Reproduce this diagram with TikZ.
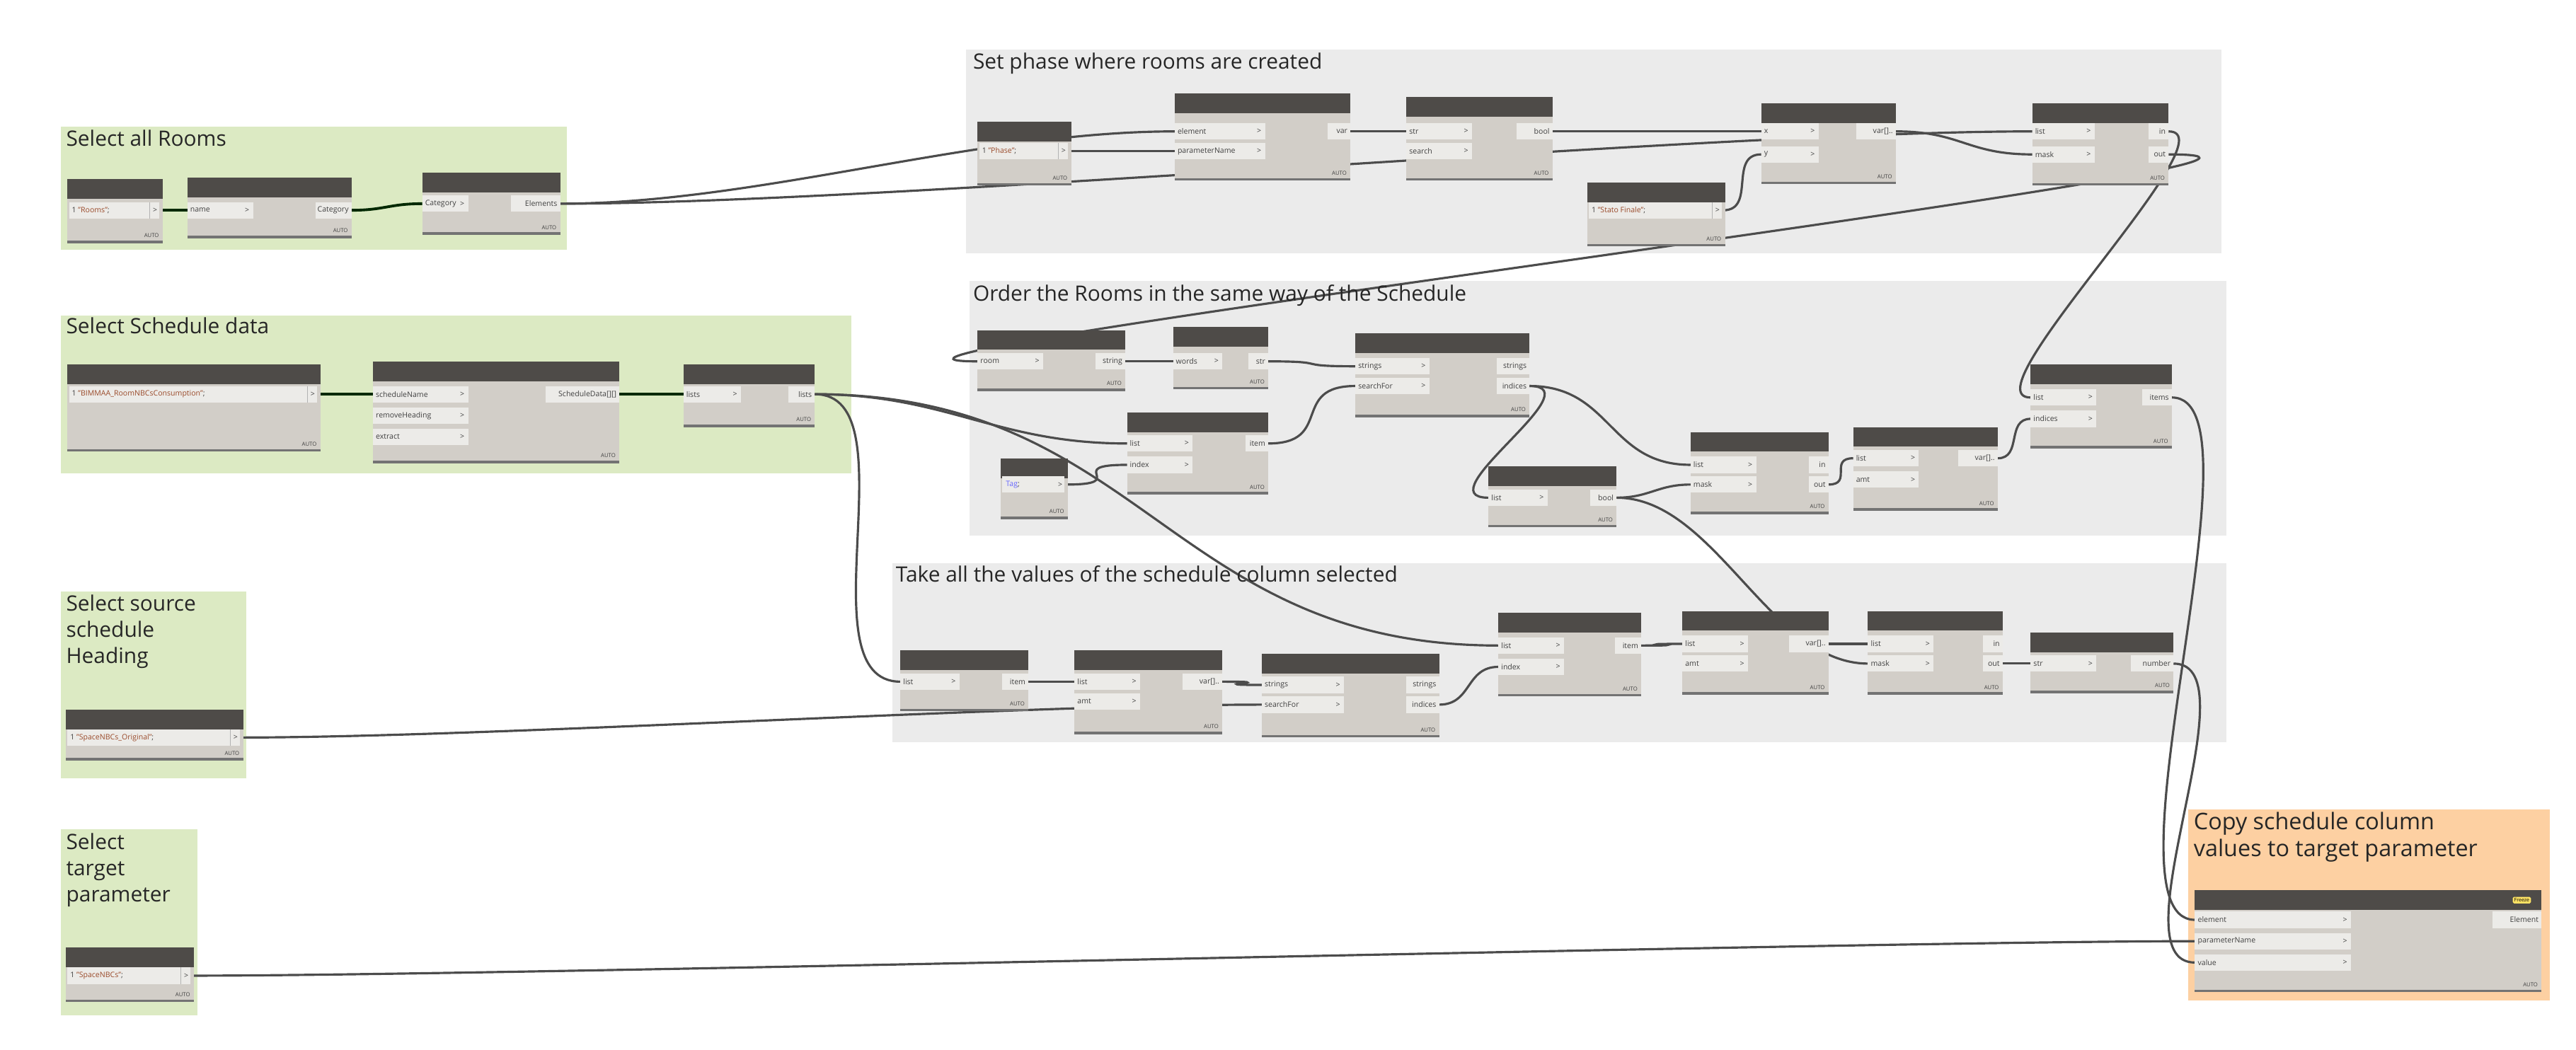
\documentclass[tikz,border=0pt]{standalone}
\usepackage{fontspec}
\setmainfont{Open Sans}
\pgfdeclarelayer{groups}\pgfdeclarelayer{wires}
\pgfsetlayers{groups,wires,main}
\definecolor{ggreen}{HTML}{DCEAC3}
\definecolor{ggray}{HTML}{EBEBEB}
\definecolor{gorange}{HTML}{FDD0A2}
\definecolor{nbody}{HTML}{D2CEC8}
\definecolor{nhead}{HTML}{4E4B48}
\definecolor{pbg}{HTML}{ECEBE8}
\definecolor{strc}{HTML}{9A4A2A}
\tikzset{x=0.0232cm,y=-0.0232cm,
  ptxt/.style={font=\fontsize{3}{3.5}\selectfont,text=black!75,inner sep=0},
  gtitle/.style={font=\fontsize{8.5}{10.5}\selectfont,anchor=north west,align=left,inner sep=0,text=black!85},
  wire/.style={draw=black!70,line width=0.9pt},
  gwire/.style={draw=black!60!green!40!black,line width=1.1pt}}
\newcommand\dn[5]{\fill[nbody](#2,#3) rectangle (#4,#5);
  \fill[nhead](#2,#3) rectangle (#4,{#3+12});
  \fill[black!55](#2,{#5-1.5}) rectangle (#4,#5);
  \coordinate (#1) at (#2,#3);
  \node[ptxt,anchor=south east,font=\fontsize{2.2}{2.5}\selectfont] at ({#4-2},{#5-3}) {AUTO};}
\newcommand\ip[5]{\fill[pbg](#2,{#3-5}) rectangle ({#2+#4},{#3+5});
  \node[ptxt,anchor=west] at ({#2+1.5},#3) {#5};
  \node[ptxt,anchor=east] at ({#2+#4-2},#3) {>};
  \coordinate (#1) at (#2,#3);}
\newcommand\op[5]{\fill[pbg]({#2-#4},{#3-5}) rectangle (#2,{#3+5});
  \node[ptxt,anchor=east] at ({#2-1.5},#3) {#5};
  \coordinate (#1) at (#2,#3);}
\newcommand\cp[5]{\fill[pbg](#2,{#4-5}) rectangle (#3,{#4+5});
  \draw[black!30,line width=0.2pt]({#3-6},{#4-5})--({#3-6},{#4+5});
  \node[ptxt,anchor=west] at ({#2+1.5},#4) {1\ \textcolor{strc}{#5};};
  \node[ptxt,anchor=east] at ({#3-1},#4) {>};
  \coordinate (#1) at ({#3+1},#4);}
\newcommand\w[2]{\draw[wire] (#1) .. controls +(40,0) and +(-40,0) .. (#2);}
\newcommand\wl[3]{\draw[wire] (#1) .. controls +(#3,0) and +(-#3,0) .. (#2);}
\begin{document}
\begin{tikzpicture}
\useasboundingbox (0,0) rectangle (1568,639);
\begin{pgfonlayer}{groups}
\fill[ggreen](37,77) rectangle (345,152);
\fill[ggreen](37,192) rectangle (518,288);
\fill[ggreen](37,360) rectangle (150,474);
\fill[ggreen](37,505) rectangle (120,618);
\fill[ggray](588,30) rectangle (1352,154);
\fill[ggray](590,171) rectangle (1355,326);
\fill[ggray](543,343) rectangle (1355,452);
\fill[gorange](1332,493) rectangle (1552,609);
\end{pgfonlayer}
\node[gtitle] (t1) at (40,79) {Select all Rooms};
\node[gtitle] (t2) at (40,193) {Select Schedule data};
\node[gtitle] (t3) at (40,362) {Select source\\schedule\\Heading};
\node[gtitle] (t4) at (40,507) {Select\\target\\parameter};
\node[gtitle] (t5) at (592,32) {Set phase where rooms are created};
\node[gtitle] (t6) at (592,173) {Order the Rooms in the same way of the Schedule};
\node[gtitle] (t7) at (545,344) {Take all the values of the schedule column selected};
\node[gtitle,font=\fontsize{9.2}{11}\selectfont] (t8) at (1335,494) {Copy schedule column\\values to target parameter};
% G1
\dn{n1}{41}{109}{99}{148}\cp{n1o}{42}{97}{128}{"Rooms"}
\dn{n2}{114}{108}{214}{145}\ip{n2i}{114}{128}{40}{name}\op{n2o}{214}{128}{22}{Category}
\dn{n3}{257}{105}{341}{143}\ip{n3i}{257}{124}{28}{Category}\op{n3o}{341}{124}{30}{Elements}
% G2
\dn{n4}{41}{222}{195}{275}\cp{n4o}{42}{193}{240}{"BIMMAA\_RoomNBCsConsumption"}
\dn{n5}{227}{220}{377}{282}\ip{n5a}{227}{240}{58}{scheduleName}\ip{n5b}{227}{253}{58}{removeHeading}\ip{n5c}{227}{266}{58}{extract}\op{n5o}{377}{240}{45}{ScheduleData[][]}
\dn{n6}{416}{222}{496}{260}\ip{n6i}{416}{240}{35}{lists}\op{n6o}{496}{240}{16}{lists}
% G3 G4
\dn{c3n}{40}{432}{148}{463}\cp{c3}{41}{146}{449}{"SpaceNBCs\_Original"}
\dn{c4n}{40}{577}{118}{610}\cp{c4}{41}{116}{594}{"SpaceNBCs"}
% G5
\dn{n7}{595}{74}{652}{113}\cp{n7o}{596}{650}{92}{"Phase"}
\dn{n8}{715}{57}{822}{110}\ip{n8e}{715}{80}{55}{element}\ip{n8p}{715}{92}{55}{parameterName}\op{n8o}{822}{80}{14}{var}
\dn{n9}{856}{59}{945}{110}\ip{n9s}{856}{80}{40}{str}\ip{n9t}{856}{92}{40}{search}\op{n9o}{945}{80}{22}{bool}
\dn{n10}{1072}{63}{1154}{112}\ip{n10x}{1072}{80}{35}{x}\ip{n10y}{1072}{94}{35}{y}\op{n10o}{1154}{80}{24}{var[]..}
\dn{n11}{1237}{63}{1320}{113}\ip{n11l}{1237}{80}{38}{list}\ip{n11m}{1237}{94}{38}{mask}\op{n11in}{1320}{80}{12}{in}\op{n11out}{1320}{94}{12}{out}
\dn{n12}{966}{111}{1050}{150}\cp{n12o}{967}{1048}{128}{"Stato Finale"}
% G6
\dn{n13}{595}{201}{685}{238}\ip{n13i}{595}{220}{40}{room}\op{n13o}{685}{220}{18}{string}
\dn{n14}{714}{199}{772}{237}\ip{n14i}{714}{220}{30}{words}\op{n14o}{772}{220}{12}{str}
\dn{n15}{825}{203}{931}{254}\ip{n15a}{825}{223}{45}{strings}\ip{n15b}{825}{235}{45}{searchFor}\op{n15c}{931}{223}{20}{strings}\op{n15d}{931}{235}{20}{indices}
\dn{n16}{686}{251}{772}{301}\ip{n16a}{686}{270}{40}{list}\ip{n16b}{686}{283}{40}{index}\op{n16o}{772}{270}{14}{item}
\dn{n17}{609}{279}{650}{316}
\fill[pbg](610,290) rectangle (648,300);\node[ptxt,anchor=west] at (612,295) {\textcolor{blue!60}{Tag};};\node[ptxt,anchor=east] at (647,295) {>};\coordinate (n17o) at (649,295);
\dn{n18}{906}{284}{984}{321}\ip{n18i}{906}{303}{36}{list}\op{n18o}{984}{303}{16}{bool}
\dn{n19}{1029}{263}{1113}{313}\ip{n19a}{1029}{283}{40}{list}\ip{n19b}{1029}{295}{40}{mask}\op{n19in}{1113}{283}{12}{in}\op{n19out}{1113}{295}{12}{out}
\dn{n20}{1128}{260}{1216}{311}\ip{n20a}{1128}{279}{40}{list}\ip{n20b}{1128}{292}{40}{amt}\op{n20o}{1216}{279}{24}{var[]..}
\dn{n21}{1236}{222}{1322}{273}\ip{n21a}{1236}{242}{40}{list}\ip{n21b}{1236}{255}{40}{indices}\op{n21o}{1322}{242}{18}{items}
% G7
\dn{n22}{548}{396}{626}{433}\ip{n22i}{548}{415}{36}{list}\op{n22o}{626}{415}{16}{item}
\dn{n23}{654}{396}{744}{447}\ip{n23a}{654}{415}{40}{list}\ip{n23b}{654}{427}{40}{amt}\op{n23o}{744}{415}{24}{var[]..}
\dn{n24}{768}{398}{876}{449}\ip{n24a}{768}{417}{50}{strings}\ip{n24b}{768}{429}{50}{searchFor}\op{n24c}{876}{417}{20}{strings}\op{n24d}{876}{429}{20}{indices}
\dn{n25}{912}{373}{999}{424}\ip{n25a}{912}{393}{40}{list}\ip{n25b}{912}{406}{40}{index}\op{n25o}{999}{393}{16}{item}
\dn{n26}{1024}{372}{1113}{423}\ip{n26a}{1024}{392}{40}{list}\ip{n26b}{1024}{404}{40}{amt}\op{n26o}{1113}{392}{24}{var[]..}
\dn{n27}{1137}{372}{1219}{423}\ip{n27a}{1137}{392}{40}{list}\ip{n27b}{1137}{404}{40}{mask}\op{n27in}{1219}{392}{12}{in}\op{n27out}{1219}{404}{12}{out}
\dn{n28}{1236}{385}{1323}{422}\ip{n28i}{1236}{404}{40}{str}\op{n28o}{1323}{404}{26}{number}
% G8
\dn{n29}{1336}{542}{1547}{604}\ip{n29a}{1336}{560}{95}{element}\ip{n29b}{1336}{573}{95}{parameterName}\ip{n29c}{1336}{586}{95}{value}\op{n29o}{1547}{560}{30}{Element}
\node[fill=yellow!70!orange!60,rounded corners=0.5pt,inner sep=0.6pt,font=\fontsize{2}{2}\selectfont] (badge) at (1535,548) {Freeze};
% wires
\begin{pgfonlayer}{wires}
\draw[gwire] (n1o) -- (n2i); \draw[gwire] (n2o) .. controls +(20,0) and +(-20,0) .. (n3i);
\draw[gwire] (n4o) -- (n5a); \draw[gwire] (n5o) -- (n6i);
\wl{n3o}{n8e}{120} \wl{n3o}{n11l}{200}
\w{n7o}{n8p} \w{n8o}{n9s} \wl{n9o}{n10x}{60} \wl{n12o}{n10y}{20} \wl{n10o}{n11m}{40}
\draw[wire] (n11out) .. controls +(170,0) and +(-150,0) .. (n13i);
\draw[wire] (n11in) .. controls +(40,0) and +(-40,0) .. (n21a);
\wl{n6o}{n16a}{80} \wl{n6o}{n22i}{60} \wl{n6o}{n25a}{200}
\w{n13o}{n14i} \w{n14o}{n15a} \w{n16o}{n15b} \w{n17o}{n16b}
\wl{n15d}{n18i}{40} \wl{n15d}{n19a}{50} \wl{n18o}{n19b}{20} \wl{n18o}{n27b}{60}
\wl{n19out}{n20a}{15} \wl{n20o}{n21b}{15}
\draw[wire] (n21o) .. controls +(60,0) and +(-60,0) .. (n29a);
\w{n22o}{n23a} \w{n23o}{n24a} \wl{c3}{n24b}{150} \wl{n24d}{n25b}{20}
\w{n25o}{n26a} \w{n26o}{n27a} \w{n27out}{n28i}
\draw[wire] (n28o) .. controls +(50,0) and +(-50,0) .. (n29c);
\wl{c4}{n29b}{200}
\end{pgfonlayer}
\end{tikzpicture}
\end{document}
